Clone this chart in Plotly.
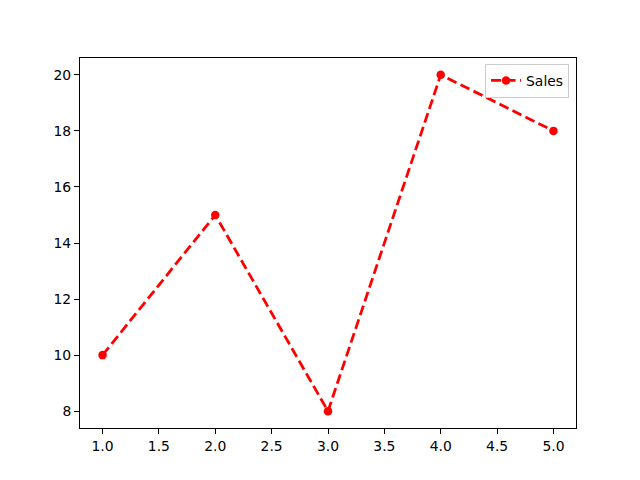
import plotly.graph_objects as go

x_vals = [1, 2, 3, 4, 5]
sales = [10, 15, 8, 20, 18]
x_ticks = [1.0, 1.5, 2.0, 2.5, 3.0, 3.5, 4.0, 4.5, 5.0]
y_ticks = [8, 10, 12, 14, 16, 18, 20]

fig = go.Figure()
fig.add_trace(go.Scatter(
    x=x_vals, y=sales, mode="lines+markers", name="Sales",
    line=dict(color="#ff0000", width=2.8, dash="10px,4.5px"),
    marker=dict(color="#ff0000", size=8.5),
))

axis_common = dict(
    showline=True, linecolor="black", linewidth=1, mirror=True,
    ticks="outside", ticklen=5, tickwidth=1, tickcolor="black",
    showgrid=False, zeroline=False,
    tickfont=dict(family="DejaVu Sans", size=13.9, color="black"),
)
fig.update_xaxes(range=[0.8, 5.2], tickvals=x_ticks,
                 ticktext=[f"{v:.1f}" for v in x_ticks], **axis_common)
fig.update_yaxes(range=[7.4, 20.6], tickvals=y_ticks,
                 ticktext=[str(v) for v in y_ticks], **axis_common)

fig.update_layout(
    width=640, height=480,
    margin=dict(l=72, r=72, t=50, b=60.4),
    paper_bgcolor="white", plot_bgcolor="white",
    showlegend=True,
    legend=dict(
        x=0.986, y=0.984, xanchor="right", yanchor="top",
        bordercolor="#cccccc", borderwidth=1, bgcolor="white",
        font=dict(family="DejaVu Sans", size=13.9, color="black"),
    ),
)
fig.write_html("out.html")
